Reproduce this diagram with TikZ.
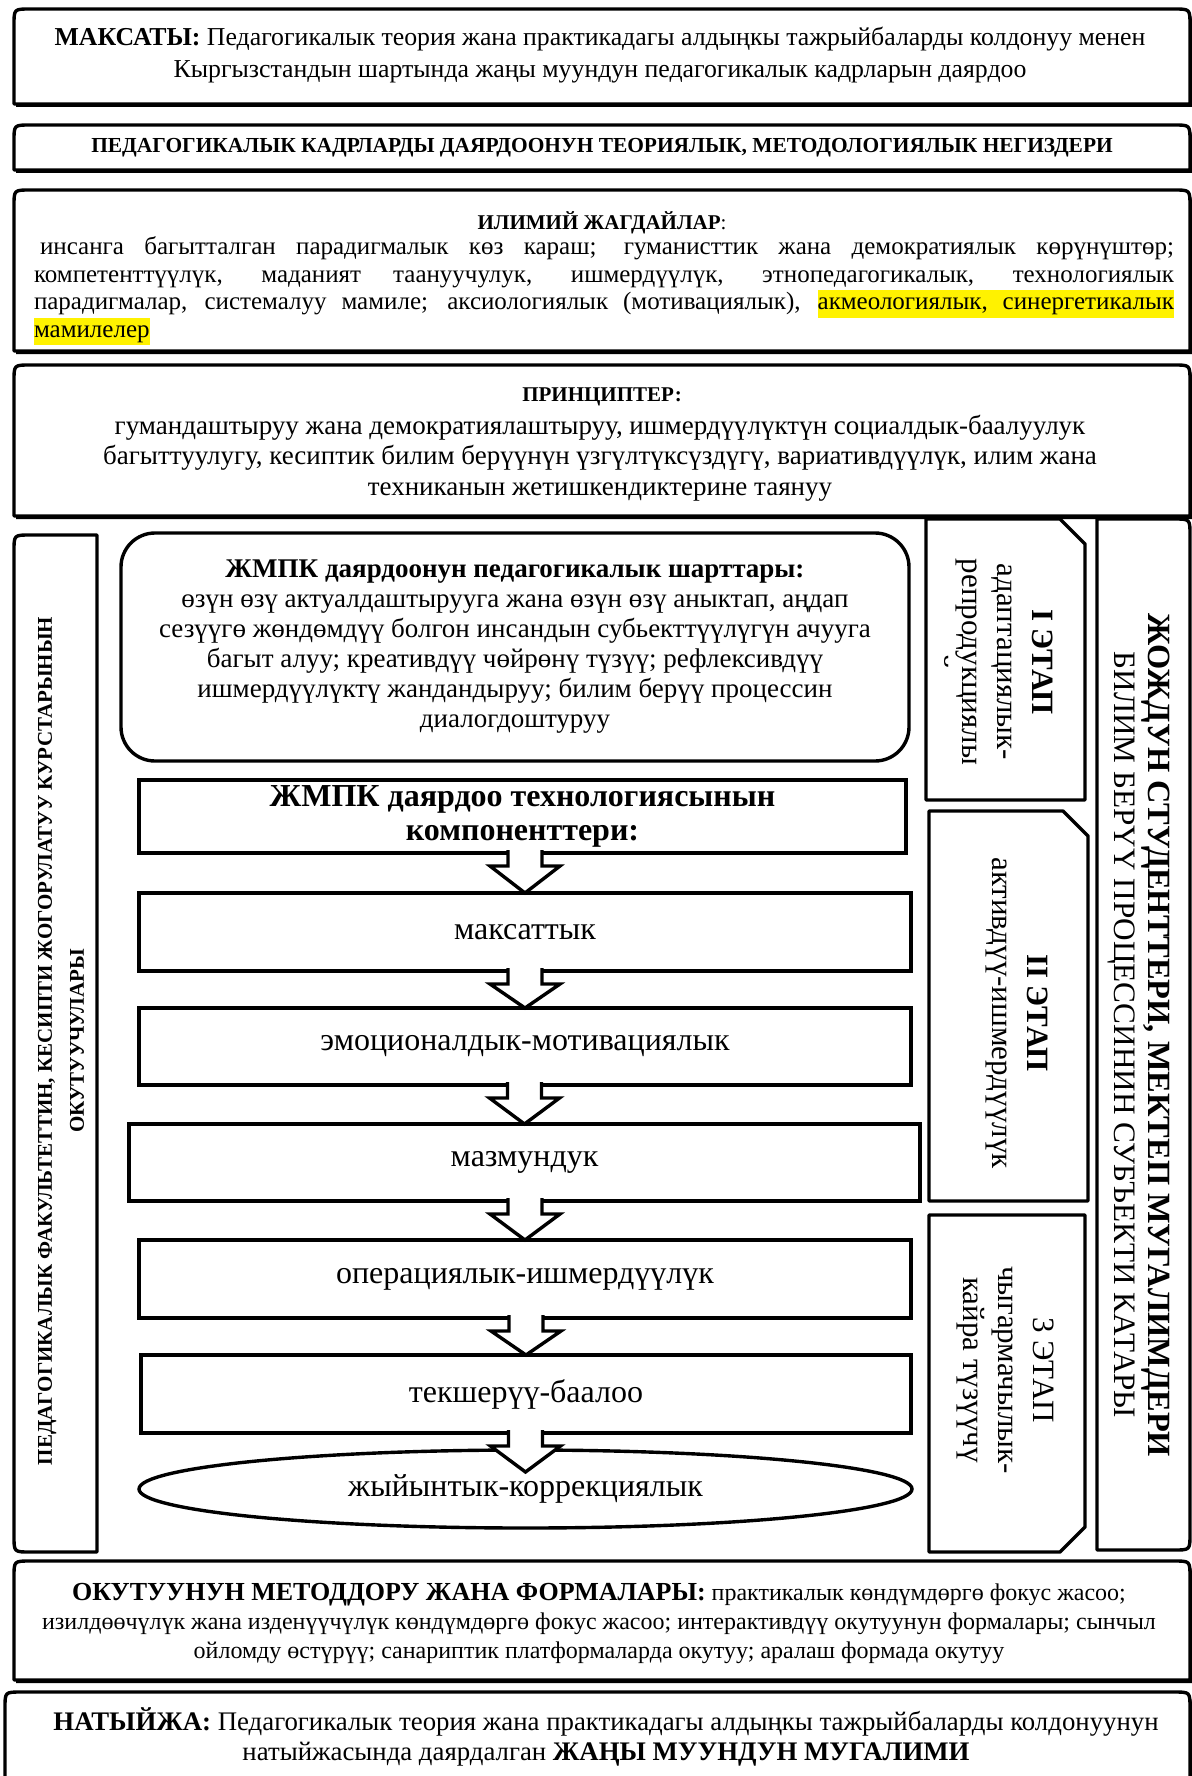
\documentclass[tikz,border=0pt]{standalone}
\usepackage{fontspec}
\setmainfont{Liberation Serif}
\usetikzlibrary{calc,shapes.geometric}
\newcommand\fsz[2]{\fontsize{#1}{#2}\selectfont}
\newcommand\hlw[1]{{\fboxsep=0pt\colorbox{yellow}{\strut#1}}}
\newcommand\hlgap{{\color{yellow}\leaders\hrule height\ht\strutbox depth\dp\strutbox\hskip\fontdimen2\font plus\fontdimen3\font minus\fontdimen4\font}}
\newcommand\topframe[4]{%
  \fill[black] (#1+2,#4+3) -- (#1+2,#2+19) .. controls (#1+2,#2+3) .. (#1+18,#2+3) -- (#3-14,#2+3) .. controls (#3+2,#2+3) .. (#3+2,#2+19) -- (#3+2,#4+3) -- cycle;
  \draw[frame] (#1,#4) -- (#1,#2+16) .. controls (#1,#2) .. (#1+16,#2) -- (#3-16,#2) .. controls (#3,#2) .. (#3,#2+16) -- (#3,#4) -- cycle;}
\newcommand\flowarrow[2]{%
  \path (#1.south -| #2) coordinate (ab);
  \draw[blockarr] ($(ab)+(-17,-3)$) -- ($(ab)+(-17,13)$) -- ($(ab)+(-35,13)$) -- (#2) -- ($(ab)+(35,13)$) -- ($(ab)+(17,13)$) -- ($(ab)+(17,-3)$);}
\begin{document}
\begin{tikzpicture}[x=0.5pt,y=-0.5pt,
  frame/.style={line width=1.7pt, draw=black, fill=white, line join=round},
  comp/.style={line width=1.7pt, draw=black, fill=white, rectangle, inner sep=0pt, outer sep=0pt, font=\fsz{16}{18}},
  blockarr/.style={line width=1.7pt, draw=black, fill=white, line join=miter},
  txt/.style={inner sep=0pt, outer sep=0pt, align=center}]
\useasboundingbox (0,0) rectangle (1192,1776);
\fill[white] (0,0) rectangle (1192,1776);
\clip (0,0) rectangle (1192,1776);

% top boxes
\topframe{14}{9}{1190}{104}
\node[txt, font=\fsz{12.9}{16}] (goal) at (600,55) {\textbf{МАКСАТЫ:} Педагогикалык теория жана практикадагы алдыңкы тажрыйбаларды колдонуу менен\\ Кыргызстандын шартында жаңы муундун педагогикалык кадрларын даярдоо};

\topframe{14}{125}{1190}{170}
\node[txt, font=\bfseries\fsz{10.7}{12}] (base) at (602,148) {ПЕДАГОГИКАЛЫК КАДРЛАРДЫ ДАЯРДООНУН ТЕОРИЯЛЫК, МЕТОДОЛОГИЯЛЫК НЕГИЗДЕРИ};

\topframe{14}{190}{1190}{351}
\node[txt, font=\fsz{10.5}{12}] (sciT) at (602,223) {\textbf{ИЛИМИЙ ЖАГДАЙЛАР}:};
\node[inner sep=0pt, outer sep=0pt, text width=570pt, align=justify, font=\fsz{12.5}{13.8}] (sci) at (604,291) {\hspace*{3pt}инсанга багытталган парадигмалык көз караш; гуманисттик жана демократиялык көрүнүштөр;\linebreak компетенттүүлүк, маданият таануучулук, ишмердүүлүк, этнопедагогикалык, технологиялык\linebreak парадигмалар, системалуу мамиле; аксиологиялык (мотивациялык), \hlw{акмеологиялык,}\hlgap\hlw{синергетикалык}\linebreak \hlw{мамилелер}};

\topframe{14}{365}{1190}{516}
\node[txt, font=\bfseries\fsz{10.5}{12}] (prT) at (602,397) {ПРИНЦИПТЕР:};
\node[txt, font=\fsz{13.5}{15.3}] (pr) at (600,458) {гумандаштыруу жана демократиялаштыруу, ишмердүүлүктүн социалдык-баалуулук\\ багыттуулугу, кесиптик билим берүүнүн үзгүлтүксүздүгү, вариативдүүлүк, илим жана\\ техниканын жетишкендиктерине таянуу};

% left box
\draw[frame] (97,535) -- (30,535) .. controls (14,535) .. (14,551) -- (14,1536) .. controls (14,1552) .. (30,1552) -- (97,1552) -- cycle;
\node[txt, rotate=90, font=\bfseries\fsz{10.5}{16}] (teach) at (61,1041) {ПЕДАГОГИКАЛЫК ФАКУЛЬТЕТТИН, КЕСИПТИ ЖОГОРУЛАТУУ КУРСТАРЫНЫН\\ОКУТУУЧУЛАРЫ};

% conditions box
\node[frame, rounded corners=17pt, minimum width=394pt, minimum height=114pt, inner sep=0pt, align=center, font=\fsz{13.5}{15}] (cond) at (515,647) {\textbf{ЖМПК даярдоонун педагогикалык шарттары:}\\ өзүн өзү актуалдаштырууга жана өзүн өзү аныктап, аңдап\\ сезүүгө жөндөмдүү болгон инсандын субьекттүүлүгүн ачууга\\ багыт алуу; креативдүү чөйрөнү түзүү; рефлексивдүү\\ ишмердүүлүктү жандандыруу; билим берүү процессин\\ диалогдоштуруу};

% components
\node[comp, minimum width=383.5pt, minimum height=36.5pt, font=\bfseries\fsz{16}{17}, align=center] (c0) at (522.5,816.5) {ЖМПК даярдоо технологиясынын\\компоненттери:};
\node[comp, minimum width=386pt, minimum height=39pt] (c1) at (525,932) {максаттык};
\node[comp, minimum width=386pt, minimum height=38.5pt] (c2) at (525,1046.5) {эмоционалдык-мотивациялык};
\node[comp, minimum width=395.5pt, minimum height=38.5pt] (c3) at (524.5,1162.5) {мазмундук};
\node[comp, minimum width=386pt, minimum height=39pt] (c4) at (525,1279) {операциялык-ишмердүүлүк};
\node[comp, minimum width=385pt, minimum height=39pt] (c5) at (526,1394) {текшерүү-баалоо};
\node[comp, ellipse, minimum width=386.5pt, minimum height=39pt] (e) at (525.5,1489) {жыйынтык-коррекциялык};
\coordinate (etip) at ($(e.north)+(0,22)$);
\flowarrow{c0}{c1.north}
\flowarrow{c1}{c2.north}
\flowarrow{c2}{c3.north}
\flowarrow{c3}{c4.north}
\flowarrow{c4}{c5.north}
\flowarrow{c5}{etip}

% stages
\draw[frame] (926,519) -- (1060,519) -- (1085,544) -- (1085,800) -- (926,800) -- cycle;
\begin{scope}
\clip (944,519) rectangle (1085,800);
\node[txt, rotate=-90, font=\fsz{15.5}{17.5}] (s1) at (990,662) {\textbf{I ЭТАП}\\адаптациялык-\\репродукциялы\\й};
\end{scope}
\draw[frame] (929,811) -- (1063,811) -- (1088,836) -- (1088,1201) -- (929,1201) -- cycle;
\node[txt, rotate=-90, font=\fsz{15.5}{17.5}] (s2) at (1017,1013) {\textbf{II ЭТАП}\\активдүү-ишмердүүлүк};
\draw[frame] (929,1215) -- (1085,1215) -- (1085,1527) -- (1060,1552) -- (929,1552) -- cycle;
\node[txt, rotate=-90, font=\fsz{15.5}{17.5}] (s3) at (1005,1370) {3 ЭТАП\\чыгармачылык-\\кайра түзүүчү};

% far right box
\draw[frame] (1097,519) -- (1174,519) .. controls (1190,519) .. (1190,535) -- (1190,1534) .. controls (1190,1550) .. (1174,1550) -- (1097,1550) -- cycle;
\node[txt, rotate=-90, font=\fsz{15.6}{17}] (subj) at (1139,1035) {{\bfseries\fsz{16.2}{17}ЖОЖДУН СТУДЕНТТЕРИ, МЕКТЕП МУГАЛИМДЕРИ}\\БИЛИМ БЕРҮҮ ПРОЦЕССИНИН СУБЪЕКТИ КАТАРЫ};

% bottom boxes
\topframe{14}{1561}{1190}{1680}
\node[txt, font=\fsz{12}{14.5}] (meth) at (599,1623) {{\bfseries\fsz{13}{14.5}ОКУТУУНУН МЕТОДДОРУ ЖАНА ФОРМАЛАРЫ:} практикалык көндүмдөргө фокус жасоо;\\ изилдөөчүлүк жана изденүүчүлүк көндүмдөргө фокус жасоо; интерактивдүү окутуунун формалары; сынчыл\\ ойломду өстүрүү; санариптик платформаларда окутуу; аралаш формада окутуу};

\topframe{5}{1692}{1190}{1800}
\node[txt, font=\fsz{13.4}{15}] (res) at (606,1737) {\textbf{НАТЫЙЖА:} Педагогикалык теория жана практикадагы алдыңкы тажрыйбаларды колдонуунун\\ натыйжасында даярдалган \textbf{ЖАҢЫ МУУНДУН МУГАЛИМИ}};
\end{tikzpicture}
\end{document}
